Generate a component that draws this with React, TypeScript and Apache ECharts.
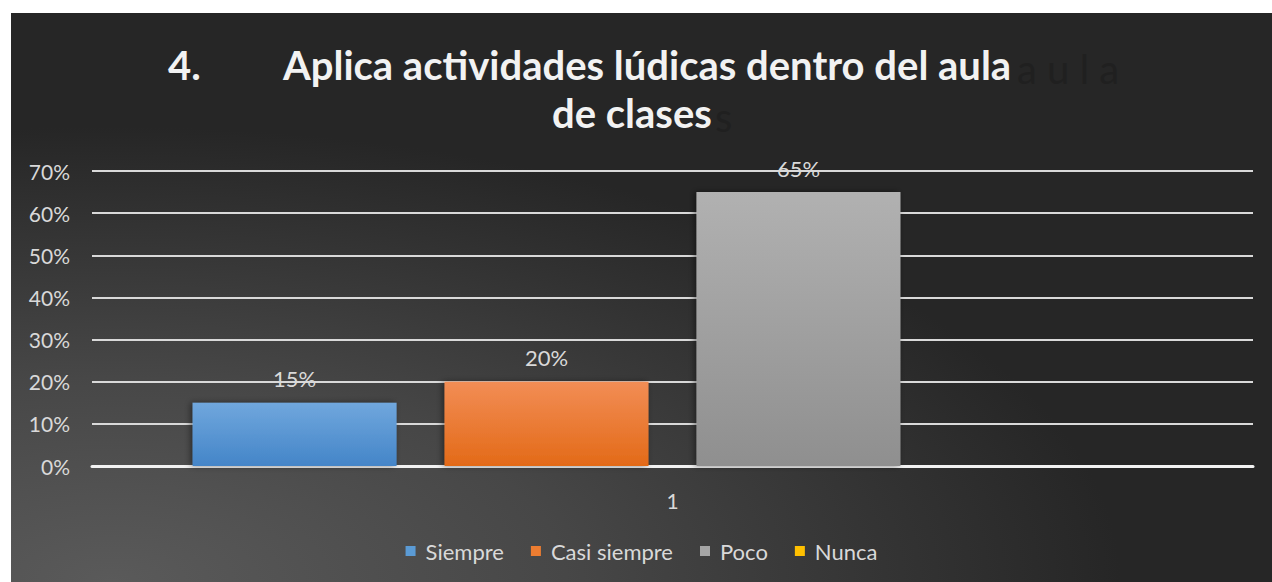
import React, { useEffect, useRef } from "react";
import * as echarts from "echarts";

const categories = ["1"];
const seriesNames = ["Siempre", "Casi siempre", "Poco", "Nunca"];
const siempre = [0.15];
const casiSiempre = [0.2];
const poco = [0.65];
const nunca = [0];
const yTicks = [0, 0.1, 0.2, 0.3, 0.4, 0.5, 0.6, 0.7];

const titleNumber = "4.";
const titleLine1 = "Aplica actividades lúdicas dentro del aula";
const titleLine2 = "de clases";

const FONT = "Lato, 'Open Sans', sans-serif";

function grad(top: string, bottom: string) {
  return new echarts.graphic.LinearGradient(0, 0, 0, 1, [
    { offset: 0, color: top },
    { offset: 1, color: bottom },
  ]);
}

export default function App() {
  const ref = useRef<HTMLDivElement>(null);
  useEffect(() => {
    if (!ref.current) return;
    const chart = echarts.init(ref.current, null, { renderer: "svg" });
    const colors = [
      grad("#70a7dd", "#4485c8"),
      grad("#f28d55", "#e36a18"),
      grad("#b1b1b1", "#8f8f8f"),
      grad("#ffc000", "#f0b000"),
    ];
    const legendColors = ["#5b9bd5", "#ed7d31", "#a5a5a5", "#ffc000"];
    const values = [siempre, casiSiempre, poco, nunca];
    chart.setOption({
      animation: false,
      backgroundColor: {
        type: "radial",
        x: 0.08,
        y: 1.0,
        r: 0.8,
        colorStops: [
          { offset: 0, color: "#5a5a5a" },
          { offset: 0.45, color: "#474747" },
          { offset: 1, color: "#262626" },
        ],
      },
      graphic: [
        {
          type: "text",
          left: 1006,
          top: 36,
          style: { text: "a u l a", font: `400 40px ${FONT}`, fill: "#202020" },
          z: 1,
        },
        {
          type: "text",
          left: 704,
          top: 84,
          style: { text: "s", font: `400 40px ${FONT}`, fill: "#202020" },
          z: 1,
        },
        {
          type: "text",
          left: 157,
          top: 32,
          style: { text: titleNumber, font: `700 40px ${FONT}`, fill: "#f2f2f2" },
          z: 2,
        },
        {
          type: "text",
          left: 272,
          top: 32,
          style: { text: titleLine1, font: `700 40px ${FONT}`, fill: "#f2f2f2" },
          z: 2,
        },
        {
          type: "text",
          left: 541,
          top: 80,
          style: { text: titleLine2, font: `700 40px ${FONT}`, fill: "#f2f2f2" },
          z: 2,
        },
      ],
      legend: {
        bottom: 15,
        left: "center",
        itemWidth: 10,
        itemHeight: 10,
        itemGap: 27,
        icon: "rect",
        textStyle: { color: "#d9d9d9", fontSize: 22, fontFamily: FONT, padding: [0, 0, 0, 5] },
        data: seriesNames.map((n, i) => ({ name: n, itemStyle: { color: legendColors[i] } })),
      },
      grid: { left: 81, right: 19, top: 158, bottom: 116 },
      xAxis: {
        type: "category",
        data: categories,
        axisLine: { show: true, lineStyle: { color: "#f2f2f2", width: 3 } },
        axisTick: { show: false },
        axisLabel: { color: "#d9d9d9", fontSize: 21, fontFamily: FONT, margin: 24 },
      },
      yAxis: {
        type: "value",
        min: yTicks[0],
        max: yTicks[yTicks.length - 1],
        interval: 0.1,
        axisLine: { show: false },
        axisTick: { show: false },
        splitLine: { lineStyle: { color: "#d9d9d9", width: 2 } },
        axisLabel: {
          color: "#d9d9d9",
          fontSize: 21,
          fontFamily: FONT,
          margin: 22,
          formatter: (v: number) => `${Math.round(v * 100)}%`,
        },
      },
      series: seriesNames.map((name, i) => ({
        name,
        type: "bar",
        data: values[i],
        barWidth: 204,
        barGap: "23.5%",
        itemStyle: {
          color: colors[i],
          shadowColor: "rgba(0,0,0,0.45)",
          shadowBlur: 6,
          shadowOffsetX: -2,
        },
        label: {
          show: true,
          position: "top",
          distance: 13,
          color: "#d9d9d9",
          fontSize: 22,
          fontFamily: FONT,
          formatter: (p: any) => (p.value ? `${Math.round(p.value * 100)}%` : ""),
        },
      })),
    });
    return () => chart.dispose();
  }, []);
  return (
    <div
      ref={ref}
      style={{ position: "absolute", left: 11, top: 13, width: 1261, height: 569 }}
    />
  );
}
